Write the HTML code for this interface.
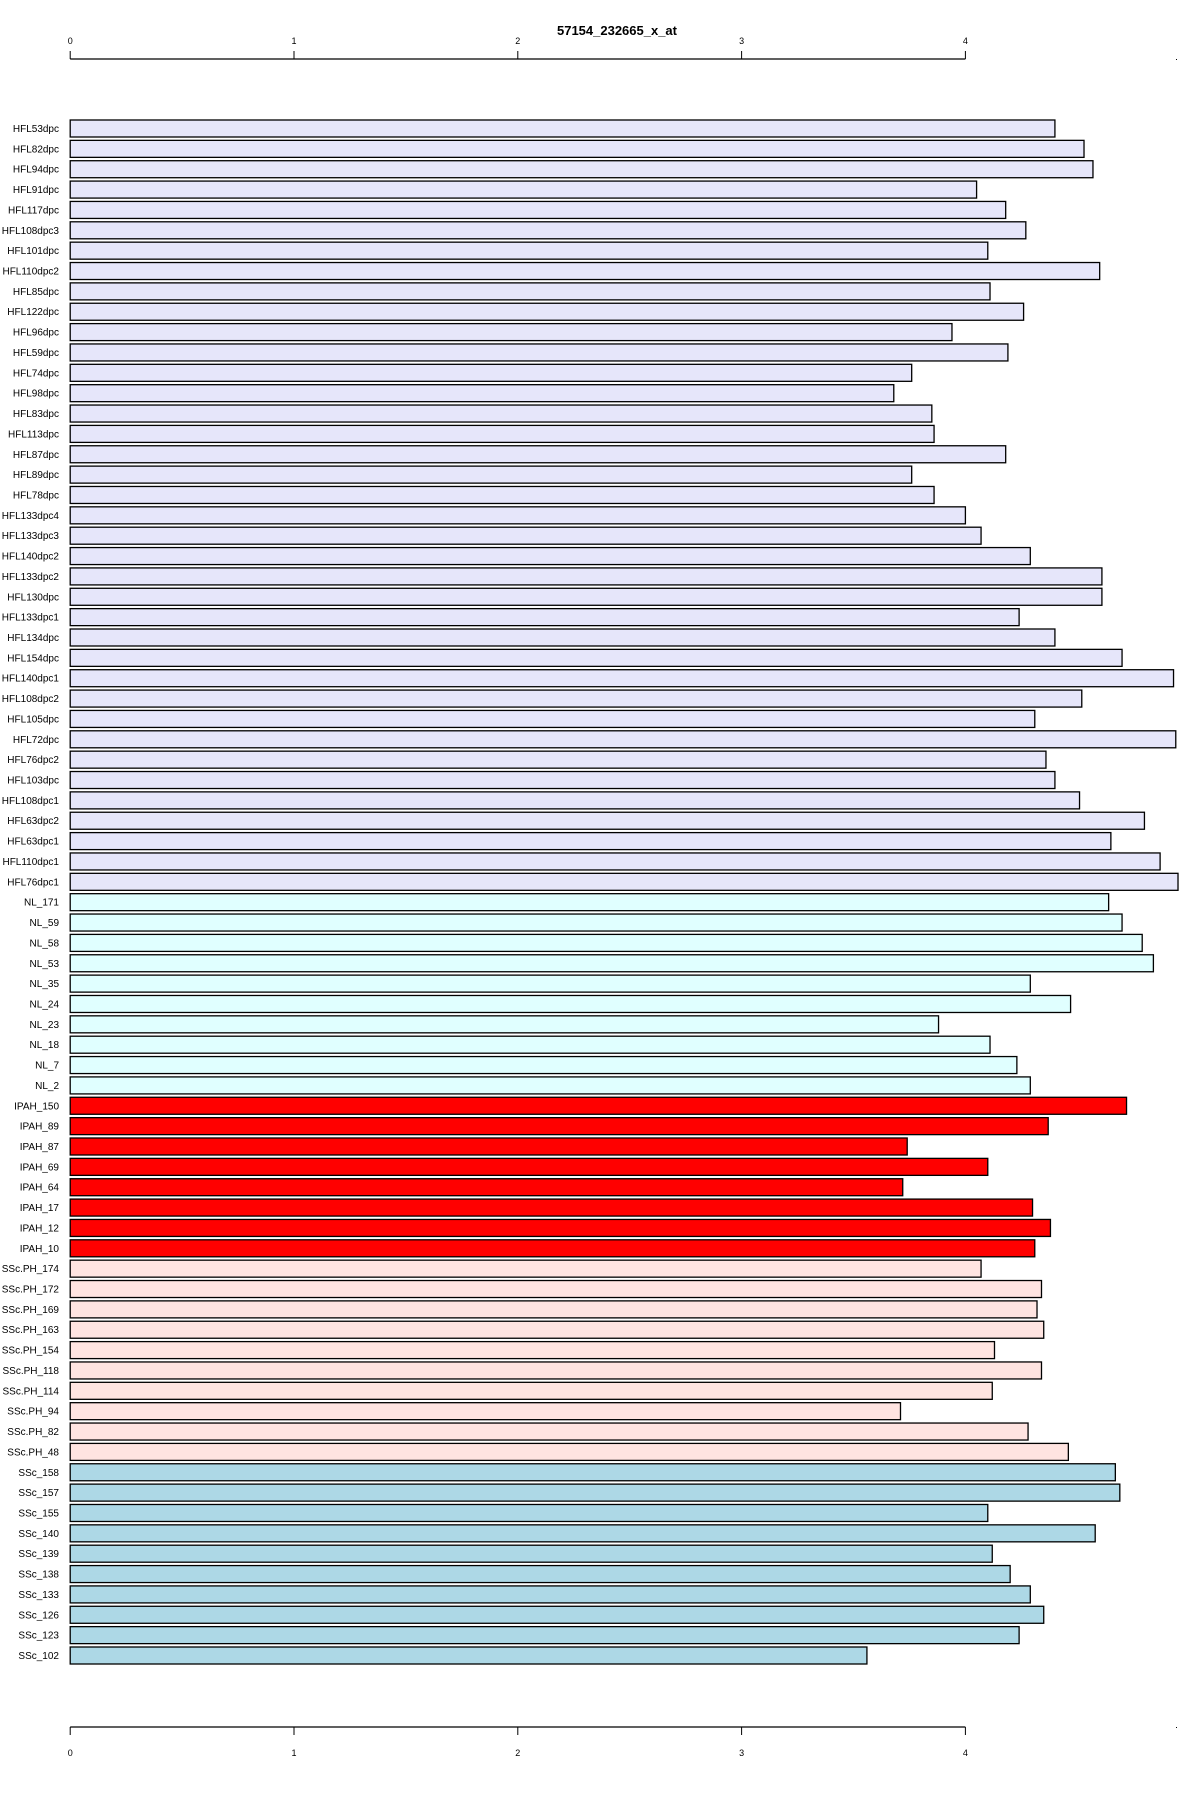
<!DOCTYPE html>
<html><head><meta charset="utf-8"><style>
html,body{margin:0;padding:0;background:#fff;}
svg{display:block;font-family:"Liberation Sans",Arial,sans-serif;}
</style></head><body>
<svg id="chart" width="1200" height="1800" viewBox="0 0 1200 1800" xmlns="http://www.w3.org/2000/svg">
<text x="617" y="35" font-size="13" font-weight="bold" text-anchor="middle">57154_232665_x_at</text>
<g id="bars"></g>
<g id="axes"></g>
</svg>
<script>
const categories=["HFL53dpc","HFL82dpc","HFL94dpc","HFL91dpc","HFL117dpc","HFL108dpc3","HFL101dpc","HFL110dpc2","HFL85dpc","HFL122dpc","HFL96dpc","HFL59dpc","HFL74dpc","HFL98dpc","HFL83dpc","HFL113dpc","HFL87dpc","HFL89dpc","HFL78dpc","HFL133dpc4","HFL133dpc3","HFL140dpc2","HFL133dpc2","HFL130dpc","HFL133dpc1","HFL134dpc","HFL154dpc","HFL140dpc1","HFL108dpc2","HFL105dpc","HFL72dpc","HFL76dpc2","HFL103dpc","HFL108dpc1","HFL63dpc2","HFL63dpc1","HFL110dpc1","HFL76dpc1","NL_171","NL_59","NL_58","NL_53","NL_35","NL_24","NL_23","NL_18","NL_7","NL_2","IPAH_150","IPAH_89","IPAH_87","IPAH_69","IPAH_64","IPAH_17","IPAH_12","IPAH_10","SSc.PH_174","SSc.PH_172","SSc.PH_169","SSc.PH_163","SSc.PH_154","SSc.PH_118","SSc.PH_114","SSc.PH_94","SSc.PH_82","SSc.PH_48","SSc_158","SSc_157","SSc_155","SSc_140","SSc_139","SSc_138","SSc_133","SSc_126","SSc_123","SSc_102"];
const values=[4.40,4.53,4.57,4.05,4.18,4.27,4.10,4.60,4.11,4.26,3.94,4.19,3.76,3.68,3.85,3.86,4.18,3.76,3.86,4.00,4.07,4.29,4.61,4.61,4.24,4.40,4.70,4.93,4.52,4.31,4.94,4.36,4.40,4.51,4.80,4.65,4.87,4.95,4.64,4.70,4.79,4.84,4.29,4.47,3.88,4.11,4.23,4.29,4.72,4.37,3.74,4.10,3.72,4.30,4.38,4.31,4.07,4.34,4.32,4.35,4.13,4.34,4.12,3.71,4.28,4.46,4.67,4.69,4.10,4.58,4.12,4.20,4.29,4.35,4.24,3.56];
const groups=["HFL","NL","IPAH","SScPH","SSc"];
const groupColors=["#E6E6FA","#E0FFFF","#FF0000","#FFE4E1","#ADD8E6"];
const tickValues=[0,1,2,3,4];
const tickLabels=["0","1","2","3","4"];

function groupOf(name){
  if(name.startsWith("HFL"))return 0;
  if(name.startsWith("NL"))return 1;
  if(name.startsWith("IPAH"))return 2;
  if(name.startsWith("SSc.PH"))return 3;
  return 4;
}
const x0=70.2, unit=223.8;
function xScale(v){return x0+v*unit;}
const top0=120, pitch=20.36, barH=17;
function yScale(i){return top0+i*pitch;}
const NS="http://www.w3.org/2000/svg";
const bars=document.getElementById("bars");
categories.forEach((c,i)=>{
  const r=document.createElementNS(NS,"rect");
  
  
  r.setAttribute("x",xScale(0));
  r.setAttribute("y",yScale(i));
  r.setAttribute("width",xScale(values[i])-xScale(0));
  r.setAttribute("height",barH);
  r.setAttribute("fill",groupColors[groupOf(c)]);
  r.setAttribute("stroke","#000");
  r.setAttribute("stroke-width","1.3");
  bars.appendChild(r);
  const t=document.createElementNS(NS,"text");
  
  
  t.setAttribute("x",59);
  t.setAttribute("y",yScale(i)+barH/2+3.5);
  t.setAttribute("text-anchor","end");
  t.setAttribute("font-size","10");
  t.textContent=c;
  bars.appendChild(t);
});
const axes=document.getElementById("axes");
function axis(yLine,dir,labY,nm){
  const g=document.createElementNS(NS,"g");
  
  
  const l=document.createElementNS(NS,"line");
  l.setAttribute("x1",xScale(tickValues[0]));l.setAttribute("x2",xScale(tickValues[tickValues.length-1]));
  l.setAttribute("y1",yLine);l.setAttribute("y2",yLine);
  l.setAttribute("stroke","#000");l.setAttribute("stroke-width","1.3");
  g.appendChild(l);
  tickValues.forEach((v,k)=>{
    const tk=document.createElementNS(NS,"line");
    tk.setAttribute("x1",xScale(v));tk.setAttribute("x2",xScale(v));
    tk.setAttribute("y1",yLine);tk.setAttribute("y2",yLine+dir*8);
    tk.setAttribute("stroke","#000");tk.setAttribute("stroke-width","1");
    g.appendChild(tk);
    const t=document.createElementNS(NS,"text");
    
    
    t.setAttribute("x",xScale(v));t.setAttribute("y",labY);
    t.setAttribute("text-anchor","middle");t.setAttribute("font-size","9");
    t.textContent=tickLabels[k];
    g.appendChild(t);
  });
  const d=document.createElementNS(NS,"rect");
  d.setAttribute("x",1176);d.setAttribute("y",yLine);d.setAttribute("width",1);d.setAttribute("height",1);d.setAttribute("fill","#000");
  g.appendChild(d);
  axes.appendChild(g);
}
axis(59,-1,44,"top-x-axis");
axis(1727,1,1756,"bottom-x-axis");
</script>
</body></html>
